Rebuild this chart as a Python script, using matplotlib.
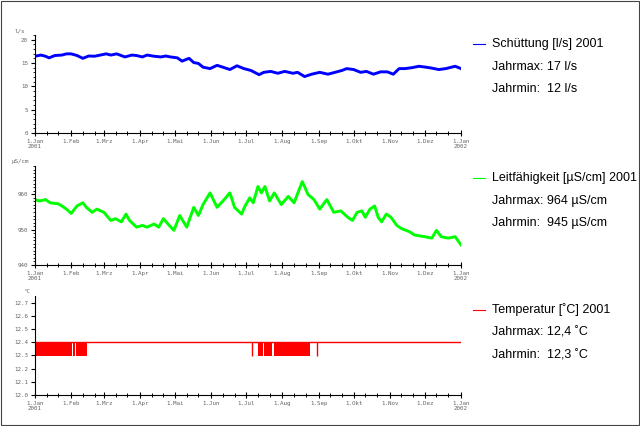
"""
    Quellmessungen 2001: Schuettung, Leitfaehigkeit, Temperatur
"""

import matplotlib.pyplot as plt
from matplotlib.lines import Line2D
from matplotlib.patches import Rectangle

# Month starts (day of year 2001) and German labels
month_days = [0, 31, 59, 90, 120, 151, 181, 212, 243, 273, 304, 334, 365]
month_labels = ["1.Jan\n2001", "1.Feb", "1.Mrz", "1.Apr", "1.Mai", "1.Jun",
                "1.Jul", "1.Aug", "1.Sep", "1.Okt", "1.Nov", "1.Dez",
                "1.Jan\n2002"]

# Schuettung [l/s]
flow_days = [0, 5, 9, 12, 17, 23, 27, 31, 36, 41, 46, 51, 56, 61, 65, 70,
             77, 83, 87, 92, 96, 102, 108, 112, 116, 122, 126, 132, 136,
             140, 144, 150, 156, 161, 167, 173, 179, 185, 192, 196, 202,
             208, 214, 221, 225, 231, 237, 244, 251, 257, 263, 267, 273,
             279, 284, 290, 296, 302, 307, 312, 317, 323, 329, 335, 340,
             346, 352, 360, 365]
flow = [16.45, 16.7, 16.45, 16.1, 16.6, 16.7, 16.96, 16.96, 16.6, 16.0,
        16.5, 16.45, 16.7, 16.96, 16.7, 16.96, 16.3, 16.7, 16.6, 16.3, 16.7,
        16.45, 16.3, 16.5, 16.3, 16.1, 15.4, 16.0, 15.1, 14.9, 14.1, 13.8,
        14.5, 14.1, 13.6, 14.4, 13.8, 13.4, 12.5, 13.0, 13.2, 12.8, 13.2,
        12.8, 13.0, 12.1, 12.6, 13.0, 12.6, 13.0, 13.4, 13.8, 13.6, 13.0,
        13.2, 12.6, 13.1, 13.1, 12.6, 13.8, 13.8, 14.0, 14.3, 14.1, 13.9,
        13.6, 13.8, 14.3, 13.8]

# Leitfaehigkeit [uS/cm]
cond_days = [0, 4, 9, 13, 20, 23, 27, 31, 36, 41, 44, 49, 53, 59, 65, 69,
             74, 78, 81, 87, 92, 96, 102, 106, 110, 115, 119, 124, 130, 136,
             140, 144, 150, 156, 161, 167, 171, 177, 180, 184, 187, 191, 194,
             197, 201, 205, 211, 217, 222, 229, 234, 239, 244, 250, 256, 262,
             268, 272, 276, 280, 283, 287, 291, 294, 297, 301, 305, 310, 314,
             321, 325, 334, 340, 344, 348, 354, 360, 365]
cond = [958.5, 958.1, 958.5, 957.6, 957.3, 956.7, 955.8, 954.6, 956.7,
        957.6, 956.3, 954.9, 955.8, 954.9, 952.6, 953.1, 952.2, 954.4, 952.6,
        950.7, 951.2, 950.7, 951.6, 950.7, 953.1, 951.2, 949.8, 954.0, 950.7,
        956.3, 954.0, 957.1, 960.4, 956.3, 958.1, 960.4, 956.3, 954.4, 956.7,
        959.0, 957.6, 962.2, 960.4, 962.2, 958.1, 960.4, 957.1, 959.4, 957.6,
        963.6, 959.9, 958.5, 955.8, 958.5, 954.9, 955.3, 953.5, 952.6, 954.9,
        955.3, 953.5, 955.8, 956.7, 953.5, 952.2, 954.4, 953.5, 951.2, 950.3,
        949.4, 948.5, 948.0, 947.6, 949.8, 948.0, 947.6, 948.0, 945.7]

# Temperatur [C]: constant level plus periods switching between 12.3 and 12.4
temp_days = [0, 365]
temp = [12.4, 12.4]
temp_low = 12.3
flicker_start = [0.0, 32.5, 35.0, 190.7, 196.5, 205.0]
flicker_end = [31.8, 34.2, 44.8, 195.6, 202.7, 235.7]
spike_days = [185.7, 241.3]

TICK_FONT = {"family": "DejaVu Sans Mono", "size": 4.2, "color": "#666666"}


def style_axis(ax, ylim, yticks, ylabels, minor_step, unit, unit_x):
    """common axis look for the three panels"""
    ax.set_xlim(0, 365)
    ax.set_ylim(*ylim)
    for side in ["top", "right"]:
        ax.spines[side].set_visible(False)
    ax.set_xticks(month_days)
    ax.set_xticklabels(month_labels, fontdict=TICK_FONT, linespacing=0.9)
    minors = [m + k for m in month_days[:-1] for k in (10, 20)]
    ax.set_xticks(minors, minor=True)
    ax.set_yticks(yticks)
    ax.set_yticklabels(ylabels, fontdict=TICK_FONT)
    if minor_step:
        n = int(round((ylim[1] - ylim[0]) / minor_step))
        ax.set_yticks([ylim[0] + i * minor_step for i in range(n + 1)],
                      minor=True)
    ax.tick_params(axis="x", which="major", direction="inout", length=5,
                   width=0.8, pad=2)
    ax.tick_params(axis="x", which="minor", direction="inout", length=3,
                   width=0.7)
    ax.tick_params(axis="y", which="major", direction="out", length=3,
                   width=0.8, pad=2)
    ax.tick_params(axis="y", which="minor", direction="out", length=1.5,
                   width=0.6)
    ax.text(unit_x, 1.02, unit, transform=ax.transAxes, ha="center",
            va="bottom", fontdict=TICK_FONT)


def legend_block(fig, y_top, color, lines):
    """line sample and text next to a panel"""
    fig.add_artist(Line2D([473 / 640, 485 / 640], [1 - y_top / 426] * 2,
                          color=color, lw=0.8))
    for i, txt in enumerate(lines):
        fig.text(492 / 640, 1 - (y_top + i * 22.5) / 426, txt, ha="left",
                 va="center", fontsize=9, family="Liberation Sans")


fig = plt.figure(figsize=(6.4, 4.26), dpi=100)
fig.add_artist(Rectangle((0.0015, 0.002), 0.997, 0.996,
                         transform=fig.transFigure, fill=False,
                         edgecolor="#444444", lw=0.8))

left, width = 35 / 640, 426 / 640
ax1 = fig.add_axes([left, 1 - 133 / 426, width, 98 / 426])
ax2 = fig.add_axes([left, 1 - 265 / 426, width, 99 / 426])
ax3 = fig.add_axes([left, 1 - 395 / 426, width, 99 / 426])

ax1.plot(flow_days, flow, color="#0000ff", lw=2.1)
style_axis(ax1, (0, 20.85), [0, 5, 10, 15, 20], ["0", "5", "10", "15", "20"],
           1, "l/s", -0.035)

ax2.plot(cond_days, cond, color="#00ff00", lw=2.1)
style_axis(ax2, (940, 967.5), [940, 950, 960], ["940", "950", "960"], 1,
           "µS/cm", -0.035)

ax3.plot(temp_days, temp, color="#ff0000", lw=1)
for s, e in zip(flicker_start, flicker_end):
    ax3.fill_between([s, e], temp_low - 0.005, temp[0], color="#ff0000",
                     lw=0)
ax3.vlines(spike_days, temp_low - 0.005, temp[0], color="#ff0000", lw=1)
ticks3 = [12.0, 12.1, 12.2, 12.3, 12.4, 12.5, 12.6, 12.7]
style_axis(ax3, (12.0, 12.75), ticks3, [f"{t:.1f}" for t in ticks3], None,
           "°C", -0.02)

legend_block(fig, 44, "#0000ff",
             ["Schüttung [l/s] 2001", "Jahrmax: 17 l/s", "Jahrmin:  12 l/s"])
legend_block(fig, 178, "#00ff00",
             ["Leitfähigkeit [µS/cm] 2001", "Jahrmax: 964 µS/cm",
              "Jahrmin:  945 µS/cm"])
legend_block(fig, 310, "#ff0000",
             ["Temperatur [˚C] 2001", "Jahrmax: 12,4 ˚C",
              "Jahrmin:  12,3 ˚C"])

plt.savefig("out.png", dpi=100)
